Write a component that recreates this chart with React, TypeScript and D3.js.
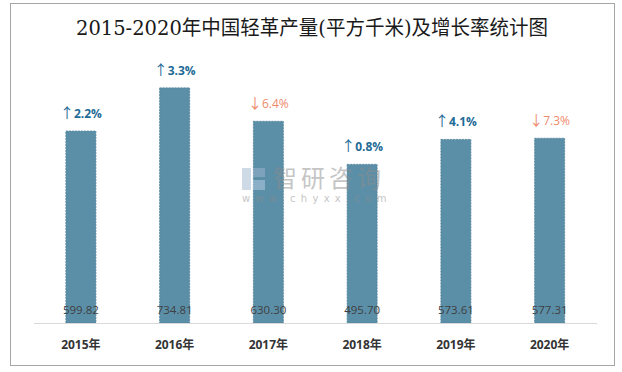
import React from 'react';
import * as d3 from 'd3';

const years = ['2015年', '2016年', '2017年', '2018年', '2019年', '2020年'];
const output = [599.82, 734.81, 630.3, 495.7, 573.61, 577.31];
const growth = [2.2, 3.3, -6.4, 0.8, 4.1, -7.3];

const width = 622;
const height = 372;

const App = () => {
  // Scales
  const x = d3.scaleBand().domain(years).range([34, 596.5]).paddingInner(0.68).paddingOuter(0.34);
  const y = d3.scaleLinear().domain([0, 800]).range([323, 67]);
  const cx = (yr: string) => x(yr)! + x.bandwidth() / 2;

  return (
    <svg
      width={width}
      height={height}
      style={{ position: 'absolute', left: 0, top: 0, background: '#fff' }}
    >
      <rect x={10.5} y={3.5} width={604} height={362} fill="#fff" stroke="#A6A6A6" />
      <text
        x={76}
        y={34.5}
        textLength={472}
        lengthAdjust="spacingAndGlyphs"
        fontSize={20}
        fontFamily="'DejaVu Serif', 'Noto Sans CJK SC', serif"
        fill="#1a1a1a"
      >
        2015-2020年中国轻革产量(平方千米)及增长率统计图
      </text>

      {/* bars */}
      {years.map((yr, i) => (
        <rect
          key={yr}
          x={x(yr)}
          y={y(output[i])}
          width={x.bandwidth()}
          height={y(0) - y(output[i])}
          fill="#5B8FA8"
          stroke="#4F8098"
          strokeDasharray="2,1"
          strokeWidth={0.8}
        />
      ))}

      {/* watermark */}
      <g opacity={0.5}>
        <rect x={242} y={168} width={9} height={22} fill="#9fb6cf" />
        <rect x={253} y={168} width={12} height={9} fill="#9fb6cf" />
        <rect x={253} y={180} width={12} height={10} fill="#b9d0e6" />
        <text x={273} y={187} fontSize={24} fill="#8c8c8c" letterSpacing={4}
          fontFamily="'Noto Sans CJK SC', sans-serif">智研咨询</text>
        <text x={242} y={202} fontSize={10} fill="#8c8c8c" letterSpacing={5.3}
          fontFamily="'DejaVu Sans', sans-serif">www.chyxx.com</text>
      </g>

      <line x1={34} x2={597} y1={323.5} y2={323.5} stroke="#D9D9D9" />

      {/* value labels */}
      {years.map((yr, i) => (
        <text
          key={yr}
          x={cx(yr)}
          y={314}
          textAnchor="middle"
          fontSize={11.5}
          fontFamily="'Open Sans', 'DejaVu Sans', sans-serif"
          fill="#404040"
        >
          {output[i].toFixed(2)}
        </text>
      ))}

      {/* growth labels */}
      {years.map((yr, i) => {
        const up = growth[i] >= 0;
        return (
          <text
            key={yr}
            x={cx(yr)}
            y={y(output[i]) - 13}
            textAnchor="middle"
            fontSize={12}
            fontWeight={up ? 'bold' : 'normal'}
            fontFamily="'Open Sans', 'Noto Sans CJK SC', sans-serif"
            fill={up ? '#1E6B96' : '#F08A6C'}
          >
            <tspan fontSize={14} fontFamily="'Noto Sans CJK SC', sans-serif" fontWeight="normal">
              {up ? '↑' : '↓'}
            </tspan>
            {Math.abs(growth[i]).toFixed(1) + '%'}
          </text>
        );
      })}

      {/* year labels */}
      {years.map(yr => (
        <text
          key={yr}
          x={cx(yr)}
          y={349}
          textAnchor="middle"
          fontSize={12}
          fontWeight="bold"
          fontFamily="'Open Sans', 'Noto Sans CJK SC', sans-serif"
          fill="#333"
        >
          {yr}
        </text>
      ))}
    </svg>
  );
};

export default App;
